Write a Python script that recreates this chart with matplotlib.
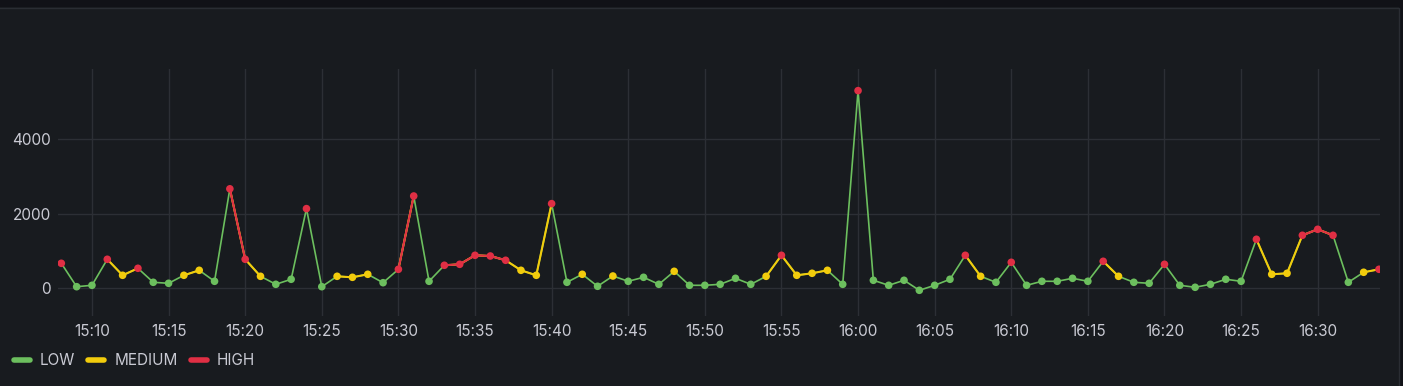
import numpy as np
import pandas as pd
import matplotlib
matplotlib.use("Agg")
import matplotlib.pyplot as plt
import matplotlib.dates as mdates
from matplotlib.lines import Line2D
from matplotlib.patches import Rectangle

plt.rcParams['font.family'] = ['Inter', 'DejaVu Sans']

# one reading per minute, 15:08 .. 16:34
start_time = "2024-01-01 15:08"
values = [
    671, 43, 80, 779, 349, 537, 161, 134, 349, 483,      # 15:08-15:17
    188, 2671, 779, 322, 107, 242, 2139, 43, 322, 295,   # 15:18-15:27
    376, 150, 510, 2478, 188, 618, 644, 886, 867, 752,   # 15:28-15:37
    483, 349, 2273, 161, 376, 54, 330, 188, 295, 107,    # 15:38-15:47
    456, 80, 80, 107, 268, 107, 322, 886, 349, 403,      # 15:48-15:57
    483, 107, 5307, 215, 80, 215, -54, 80, 242, 886,     # 15:58-16:07
    322, 161, 698, 80, 188, 188, 268, 188, 725, 322,     # 16:08-16:17
    161, 134, 644, 80, 27, 107, 242, 188, 1316, 376,     # 16:18-16:27
    403, 1423, 1584, 1423, 161, 430, 510,                # 16:28-16:34
]
# 0 = LOW, 1 = MEDIUM, 2 = HIGH
levels = [
    2, 0, 0, 2, 1, 2, 0, 0, 1, 1,
    0, 2, 2, 1, 0, 0, 2, 0, 1, 1,
    1, 0, 2, 2, 0, 2, 2, 2, 2, 2,
    1, 1, 2, 0, 1, 0, 1, 0, 0, 0,
    1, 0, 0, 0, 0, 0, 1, 2, 1, 1,
    1, 0, 2, 0, 0, 0, 0, 0, 0, 2,
    1, 0, 2, 0, 0, 0, 0, 0, 2, 1,
    0, 0, 2, 0, 0, 0, 0, 0, 2, 1,
    1, 2, 2, 2, 0, 1, 2,
]
level_names = ["LOW", "MEDIUM", "HIGH"]
level_colors = ["#6cbf5e", "#f2cc0c", "#e02f44"]

times = pd.date_range(start_time, periods=len(values), freq="min")
vals = np.array(values, dtype=float)
lev = np.array(levels)

bg = "#181b1f"
text_col = "#c9cad3"
grid_col = "#2c2f35"

fig = plt.figure(figsize=(14.03, 3.86), dpi=100, facecolor=bg)
ax = fig.add_axes([58 / 1403, 1 - 316 / 386, (1380 - 58) / 1403, (316 - 69) / 386])
ax.set_facecolor(bg)

# outer dashboard strip + panel border
fig.patches.append(Rectangle((0, 1 - 7 / 386), 1, 7 / 386, transform=fig.transFigure,
                             facecolor="#111217", edgecolor="none", zorder=-5))
fig.patches.append(Rectangle((1399 / 1403, 0), 4 / 1403, 1, transform=fig.transFigure,
                             facecolor="#111217", edgecolor="none", zorder=-5))
fig.lines.append(Line2D([0, 1399 / 1403, 1399 / 1403], [1 - 7.5 / 386, 1 - 7.5 / 386, 0],
                        transform=fig.transFigure, color="#2a2d33", lw=1))

# series lines: green through everything, yellow where >= MEDIUM, red where HIGH
ax.plot(times, vals, color=level_colors[0], lw=1.2, zorder=3)
ax.plot(times, np.where(lev >= 1, vals, np.nan), color=level_colors[1], lw=1.5, zorder=4)
ax.plot(times, np.where(lev >= 2, vals, np.nan), color=level_colors[2], lw=1.5, zorder=5)
ax.scatter(times, vals, s=30, c=[level_colors[l] for l in levels], zorder=6, linewidths=0)

ax.set_ylim(-744, 5888)
ax.set_yticks([0, 2000, 4000])
ax.set_xlim(pd.Timestamp("2024-01-01 15:07:47"), pd.Timestamp("2024-01-01 16:34:04"))
ax.xaxis.set_major_locator(mdates.MinuteLocator(byminute=range(0, 60, 5)))
ax.xaxis.set_major_formatter(mdates.DateFormatter("%H:%M"))

ax.grid(True, color=grid_col, lw=1)
ax.set_axisbelow(True)
for s in ax.spines.values():
    s.set_visible(False)
ax.tick_params(colors=text_col, labelsize=11, length=0)
ax.tick_params(axis="x", pad=5.5)
ax.tick_params(axis="y", pad=5)

handles = [Line2D([], [], color=c, lw=4, solid_capstyle="round") for c in level_colors]
fig.legend(handles, level_names, loc="center left", bbox_to_anchor=(14 / 1403, 1 - 360.5 / 386),
           ncol=3, frameon=False, fontsize=11, labelcolor=text_col, borderpad=0,
           borderaxespad=0, handlelength=1.05, handletextpad=0.65, columnspacing=0.85)

fig.savefig("out.png", dpi=100, facecolor=bg)
